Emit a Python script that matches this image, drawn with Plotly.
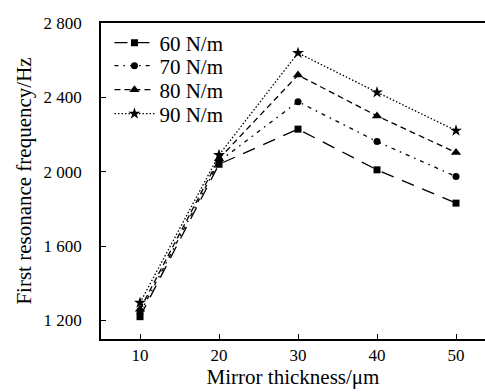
import plotly.graph_objects as go

thickness = [10, 20, 30, 40, 50]
series_names = ["60 N/m", "70 N/m", "80 N/m", "90 N/m"]
f60 = [1220, 2040, 2229, 2010, 1831]
f70 = [1240, 2055, 2377, 2162, 1974]
f80 = [1260, 2070, 2520, 2300, 2103]
f90 = [1295, 2090, 2639, 2427, 2221]
y_tickvals = [1200, 1600, 2000, 2400, 2800]
y_ticktext = ["1 200", "1 600", "2 000", "2 400", "2 800"]
x_tickvals = [10, 20, 30, 40, 50]

styles = [
    dict(dash="13px,9px", symbol="square", size=7),
    dict(dash="4px,5px,1.6px,5px", symbol="circle", size=7),
    dict(dash="6px,4px", symbol="triangle-up", size=9),
    dict(dash="1.5px,2px", symbol="star", size=9),
]

font = "Liberation Serif, Times New Roman, serif"
H_PLOT = 392 - 23 - 53
legend_rows_px = [43, 66, 90, 114]
legend_keys = ["legend", "legend2", "legend3", "legend4"]

fig = go.Figure()
for name, vals, st, lk in zip(series_names, [f60, f70, f80, f90], styles, legend_keys):
    fig.add_trace(go.Scatter(
        x=thickness, y=vals, name=name, mode="lines+markers",
        line=dict(color="black", width=1.3, dash=st["dash"]),
        marker=dict(symbol=st["symbol"], size=st["size"], color="black"),
        legend=lk,
    ))

layout_legends = {}
for lk, ypx in zip(legend_keys, legend_rows_px):
    layout_legends[lk] = dict(
        x=0.022, y=1 - (ypx - 23) / H_PLOT, xanchor="left", yanchor="middle",
        bgcolor="rgba(0,0,0,0)", font=dict(size=21, family=font),
        itemwidth=40, borderwidth=0,
    )

fig.update_layout(
    width=485, height=392,
    margin=dict(l=101, r=0, t=23, b=53),
    paper_bgcolor="white", plot_bgcolor="white",
    font=dict(family=font, size=17, color="black"),
    showlegend=True,
    xaxis=dict(range=[5.06, 53.67], tickvals=x_tickvals,
               ticks="inside", ticklen=5, tickwidth=1, tickcolor="black",
               showline=True, linecolor="black", linewidth=1.5, mirror=True,
               showgrid=False, zeroline=False,
               title=dict(text="Mirror thickness/μm", standoff=3, font=dict(size=21)),
               tickfont=dict(size=17)),
    yaxis=dict(range=[1100, 2800], tickvals=y_tickvals, ticktext=y_ticktext,
               ticks="inside", ticklen=5, tickwidth=1, tickcolor="black",
               showline=True, linecolor="black", linewidth=1.5,
               showgrid=False, zeroline=False, ticklabelstandoff=14,
               title=dict(text="First resonance frequency/Hz", standoff=6, font=dict(size=21)),
               tickfont=dict(size=17)),
    **layout_legends,
)

fig.write_html(
    "out.html",
    config={"displayModeBar": False},
    post_script="document.documentElement.style.margin='0';document.body.style.margin='0';document.body.style.overflow='hidden';",
)
